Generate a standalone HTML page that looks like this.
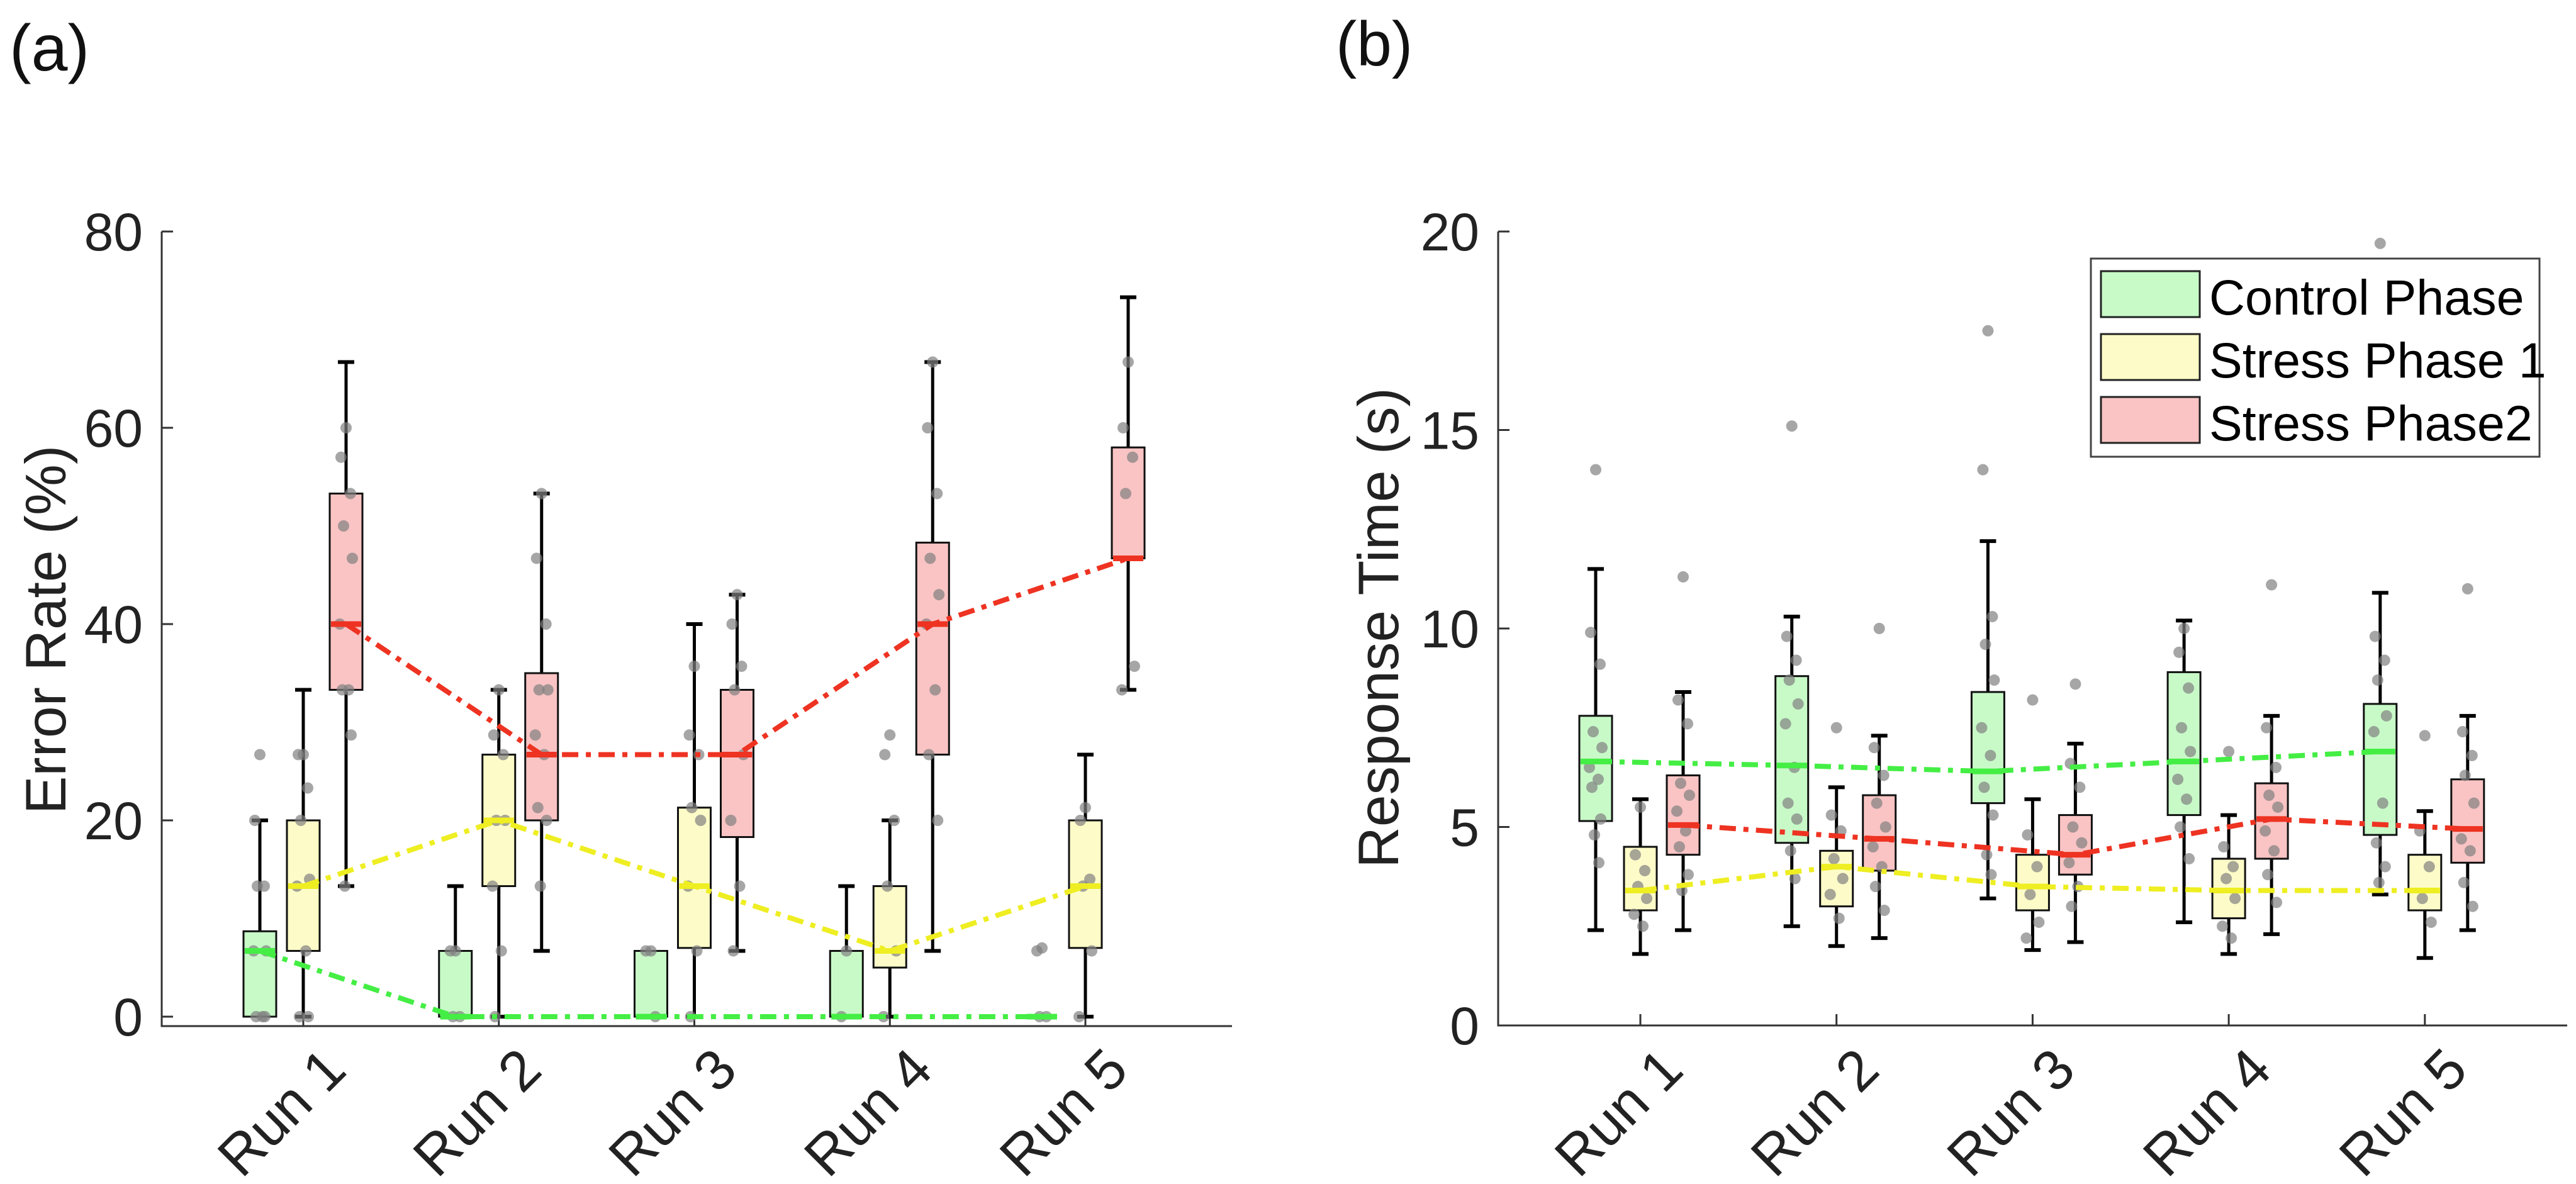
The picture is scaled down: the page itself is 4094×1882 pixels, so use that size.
<!DOCTYPE html>
<html><head><meta charset="utf-8"><style>
html,body{margin:0;padding:0;background:#fff;}
svg{display:block;font-family:"Liberation Sans",Arial,sans-serif;}
</style></head><body>
<svg id="fig" width="4094" height="1882" viewBox="0 0 4094 1882" xmlns="http://www.w3.org/2000/svg">
<text x="15" y="112" font-size="104" fill="#111">(a)</text>
<text x="2123" y="104" font-size="100" fill="#111">(b)</text>
<text transform="translate(104,1001) rotate(-90)" text-anchor="middle" font-size="91" fill="#222">Error Rate (%)</text>
<text transform="translate(2222,998) rotate(-90)" text-anchor="middle" font-size="91" fill="#222">Response Time (s)</text>
<g id="pa"></g>
<g id="pb"></g>
<g>
<rect x="3323" y="411" width="713" height="315" fill="#fff" stroke="#444" stroke-width="3"/>
<rect x="3339" y="431" width="157" height="73" fill="#c8fac8" stroke="#222" stroke-width="3"/>
<text x="3511" y="500" font-size="79" fill="#000">Control Phase</text>
<rect x="3339" y="531" width="157" height="73" fill="#fdfcc8" stroke="#222" stroke-width="3"/>
<text x="3511" y="600" font-size="79" fill="#000">Stress Phase 1</text>
<rect x="3339" y="631" width="157" height="73" fill="#fac4c4" stroke="#222" stroke-width="3"/>
<text x="3511" y="700" font-size="79" fill="#000">Stress Phase2</text>
</g>
</svg>
<script>
const runs = ["Run 1","Run 2","Run 3","Run 4","Run 5"];
const phases = ["control","stress1","stress2"];
// Panel A: error rate [lo, q1, med, q3, hi] per phase per run
const errCtrl = [[0,0,6.7,8.7,20],[0,0,0,6.7,13.3],[0,0,0,6.7,6.7],[0,0,0,6.7,13.3],[0,0,0,0,0]];
const errS1 = [[0,6.7,13.3,20,33.3],[0,13.3,20,26.7,33.3],[0,7,13.3,21.3,40],[0,5,6.7,13.3,20],[0,7,13.3,20,26.7]];
const errS2 = [[13.3,33.3,40,53.3,66.7],[6.7,20,26.7,35,53.3],[6.7,18.3,26.7,33.3,43],[6.7,26.7,40,48.3,66.7],[33.3,46.7,46.7,58,73.3]];
const errCtrlPts = [[26.7,20,13.3,13.3,6.7,6.7,0,0,0],[6.7,6.7,0,0],[6.7,6.7,0],[6.7,0],[7,6.7,0,0]];
const errS1Pts = [[26.7,26.7,23.3,20,14,13.3,6.7,0,0],[33.3,28.7,26.7,20,20,13.3,6.7,0],[35.7,28.7,26.7,21.3,20,13.3,6.7,0],[28.7,26.7,20,13.3,6.7,0],[21.3,20,14,13.3,6.7,0]];
const errS2Pts = [[60,57,53.3,50,46.7,40,33.3,33.3,28.7,13.3],[53.3,46.7,40,33.3,33.3,28.7,26.7,21.3,20,13.3],[43,40,35.7,33.3,26.7,20,13.3,6.7],[66.7,60,53.3,46.7,43,40,33.3,26.7,20],[66.7,60,57,53.3,35.7,33.3]];
const errTicks = [0,20,40,60,80];
// Panel B: response time
const rtCtrl = [[2.4,5.15,6.65,7.8,11.5],[2.5,4.6,6.55,8.8,10.3],[3.2,5.6,6.4,8.4,12.2],[2.6,5.3,6.65,8.9,10.2],[3.3,4.8,6.9,8.1,10.9]];
const rtS1 = [[1.8,2.9,3.4,4.5,5.7],[2.0,3.0,4.0,4.4,6.0],[1.9,2.9,3.5,4.3,5.7],[1.8,2.7,3.4,4.2,5.3],[1.7,2.9,3.4,4.3,5.4]];
const rtS2 = [[2.4,4.3,5.05,6.3,8.4],[2.2,3.9,4.7,5.8,7.3],[2.1,3.8,4.3,5.3,7.1],[2.3,4.2,5.2,6.1,7.8],[2.4,4.1,4.95,6.2,7.8]];
const rtCtrlPts = [[14,9.9,9.1,7.4,7.0,6.5,6.2,6.0,5.2,4.8,4.1],[15.1,9.8,9.2,8.7,8.1,7.6,6.5,5.6,5.2,4.4,3.7],[17.5,14,10.3,9.6,8.7,7.5,6.8,6.0,5.3,4.3,3.8],[10.0,9.4,8.5,7.5,6.9,6.2,5.7,5.0,4.2],[19.7,9.8,9.2,8.7,7.8,7.4,5.6,4.6,4.0,3.6]];
const rtS1Pts = [[5.5,4.3,3.9,3.5,3.2,2.8,2.5],[7.5,5.3,4.9,4.2,3.7,3.3,2.7],[8.2,4.8,4.0,3.3,2.6,2.2],[6.9,4.5,4.0,3.7,3.2,2.5,2.2],[7.3,4.9,4.0,3.2,2.6]];
const rtS2Pts = [[11.3,8.2,7.6,6.1,5.8,5.4,4.9,4.5,3.8,3.4],[10.0,7.0,6.3,5.6,5.0,4.5,4.0,3.5,2.9],[8.6,6.6,6.0,5.0,4.6,4.1,3.5,3.0],[11.1,7.5,6.5,5.8,5.5,4.9,4.4,3.8,3.1],[11.0,7.4,6.8,6.3,5.6,4.7,4.4,3.6,3.0]];
const rtTicks = [0,5,10,15,20];

const NS = "http://www.w3.org/2000/svg";
const fills = ["#c8fac8","#fdfcc8","#fac4c4"];
const lineCols = ["#44ee44","#eeee22","#ee3322"];
function mk(parent, tag, attrs){const e=document.createElementNS(NS,tag);for(const k in attrs)e.setAttribute(k,attrs[k]);parent.appendChild(e);return e;}

function drawPanel(g, cfg, stats, pts, ticks){
  const y = v => cfg.y0 - v*cfg.k;
  const xc = (r,p) => cfg.x0 + r*cfg.dx + cfg.off[p];
  const ax = mk(g,"path",{d:`M${cfg.left},${cfg.top-12} V${cfg.bottom} H${cfg.right}`,fill:"none",stroke:"#333","stroke-width":3});
  
  
  ticks.forEach(t=>{
    const tl = mk(g,"line",{x1:cfg.left,x2:cfg.left+18,y1:y(t),y2:y(t),stroke:"#333","stroke-width":3});
    
    
    const tx = mk(g,"text",{x:cfg.left-30,y:y(t)+30,"text-anchor":"end","font-size":84,fill:"#222"});
    tx.textContent = t;
    
    
  });
  runs.forEach((r,i)=>{
    const x = cfg.x0 + i*cfg.dx;
    const tk = mk(g,"line",{x1:x,x2:x,y1:cfg.bottom,y2:cfg.bottom-18,stroke:"#333","stroke-width":3});
    
    
    const lb = mk(g,"text",{transform:`translate(${x+72},1705) rotate(-45)`,"text-anchor":"end","font-size":90,fill:"#222"});
    lb.textContent = r;
    
    
  });
  const jit = [0,-8,7,-4,10,-10,4,-6,8,-2,5];
  stats.forEach((series,p)=>{
    series.forEach((s,i)=>{
      const x = xc(i,p), hw = 26;
      const grp = mk(g,"g",{});
      
      
      if(s[4]>s[3]){mk(grp,"line",{x1:x,x2:x,y1:y(s[3]),y2:y(s[4]),stroke:"#000","stroke-width":5});mk(grp,"line",{x1:x-13,x2:x+13,y1:y(s[4]),y2:y(s[4]),stroke:"#000","stroke-width":6});}
      if(s[1]>s[0]){mk(grp,"line",{x1:x,x2:x,y1:y(s[1]),y2:y(s[0]),stroke:"#000","stroke-width":5});mk(grp,"line",{x1:x-13,x2:x+13,y1:y(s[0]),y2:y(s[0]),stroke:"#000","stroke-width":6});}
      if(s[3]>s[1]) mk(grp,"rect",{x:x-hw,y:y(s[3]),width:2*hw,height:y(s[1])-y(s[3]),fill:fills[p],stroke:"#111","stroke-width":3});
      else mk(grp,"line",{x1:x-13,x2:x+13,y1:y(s[1]),y2:y(s[1]),stroke:"#000","stroke-width":6});
    });
  });
  pts.forEach((series,p)=>{
    series.forEach((arr,i)=>{
      arr.forEach((v,j)=>{
        const c = mk(g,"circle",{cx:xc(i,p)+jit[j%jit.length],cy:y(v),r:9,fill:"#808080","fill-opacity":0.7});
        
        
      });
    });
  });
  stats.forEach((series,p)=>{
    const d = series.map((s,i)=>`${i?"L":"M"}${xc(i,p)},${y(s[2])}`).join(" ");
    const pl = mk(g,"path",{d:d,fill:"none",stroke:lineCols[p],"stroke-width":8,"stroke-dasharray":"26 12 8 12"});
    
    
    series.forEach((s,i)=>{
      const m = mk(g,"line",{x1:xc(i,p)-24,x2:xc(i,p)+24,y1:y(s[2]),y2:y(s[2]),stroke:lineCols[p],"stroke-width":9});
      
      
    });
  });
}
drawPanel(document.getElementById("pa"),{left:257,right:1958,top:380,bottom:1631,y0:1616,k:15.6,x0:482,dx:310.75,off:[-69,0,68]},[errCtrl,errS1,errS2],[errCtrlPts,errS1Pts,errS2Pts],errTicks);
drawPanel(document.getElementById("pb"),{left:2381,right:4080,top:380,bottom:1630,y0:1630,k:63.1,x0:2607,dx:311.7,off:[-71,0,68]},[rtCtrl,rtS1,rtS2],[rtCtrlPts,rtS1Pts,rtS2Pts],rtTicks);
</script>
</body></html>
